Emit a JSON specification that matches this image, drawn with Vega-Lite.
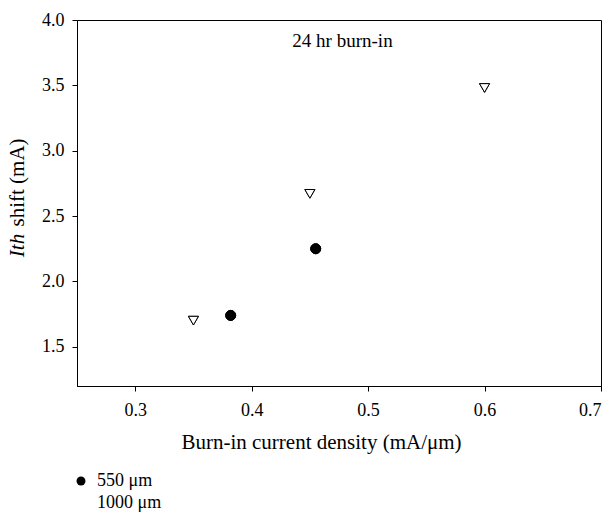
{
  "$schema": "https://vega.github.io/schema/vega-lite/v6.json",
  "autosize": "none",
  "width": 524,
  "height": 366,
  "padding": {"left": 77, "top": 20, "right": 12, "bottom": 133},
  "background": "white",
  "config": {
    "view": {"stroke": "black", "strokeWidth": 1},
    "axis": {"domainColor": "black", "tickColor": "black", "labelColor": "black", "titleColor": "black", "labelFont": "Liberation Serif", "titleFont": "Liberation Serif", "labelFontSize": 18, "titleFontSize": 21, "titleFontWeight": "normal", "grid": false, "tickSize": 5},
    "legend": {"labelFont": "Liberation Serif", "labelFontSize": 18, "labelColor": "black", "padding": 0, "symbolStrokeColor": "black", "symbolStrokeWidth": 1, "symbolSize": 80}
  },
  "data": {"values": [
    {"density": 0.382, "shift": 1.74, "length": "550 μm"},
    {"density": 0.455, "shift": 2.25, "length": "550 μm"},
    {"density": 0.35, "shift": 1.70, "length": "1000 μm"},
    {"density": 0.45, "shift": 2.67, "length": "1000 μm"},
    {"density": 0.60, "shift": 3.48, "length": "1000 μm"}
  ]},
  "layer": [
    {
      "mark": {"type": "point", "filled": true, "stroke": "black", "strokeWidth": 1, "opacity": 1, "size": 100},
      "encoding": {
        "x": {"field": "density", "type": "quantitative", "scale": {"domain": [0.25, 0.7], "nice": false, "zero": false},
          "axis": {"values": [0.3, 0.4, 0.5, 0.6, 0.7], "format": ".1f", "title": "Burn-in current density (mA/μm)", "labelPadding": 10, "titleBaseline": "alphabetic", "titleY": 62, "titleX": 244, "titleAlign": "center"}},
        "y": {"field": "shift", "type": "quantitative", "scale": {"domain": [1.2, 4.0], "nice": false, "zero": false},
          "axis": {"orient": "left", "values": [1.5, 2.0, 2.5, 3.0, 3.5, 4.0], "format": ".1f", "title": "shift (mA)", "labelPadding": 8, "titleBaseline": "middle", "titleAngle": 270, "titleX": -60, "titleY": 162, "titleAlign": "center"}},
        "shape": {"field": "length", "type": "nominal", "scale": {"domain": ["550 μm", "1000 μm"], "range": ["circle", "triangle-down"]},
          "legend": {"title": null, "orient": "none", "legendX": -5, "legendY": 452, "rowPadding": 4, "labelOffset": 7, "symbolStrokeColor": "black",
            "encode": {"symbols": {"update": {"stroke": {"value": "black"}, "strokeWidth": {"value": 1}, "strokeOpacity": {"value": 1}, "fillOpacity": {"value": 1}, "fill": {"scale": "fill", "field": "value"}, "opacity": {"value": 1}}}}}},
        "fill": {"field": "length", "type": "nominal", "scale": {"domain": ["550 μm", "1000 μm"], "range": ["black", "white"]}, "legend": null}
      }
    },
    {
      "mark": {"type": "point", "filled": true, "stroke": "black", "strokeWidth": 1, "opacity": 1, "size": 100},
      "encoding": {
        "x": {"field": "density", "type": "quantitative"},
        "y": {"field": "shift", "type": "quantitative",
          "axis": {"orient": "left", "values": [1.5, 2.0, 2.5, 3.0, 3.5, 4.0], "labels": false, "ticks": false, "domain": false, "title": "Ith", "titleFontStyle": "italic", "titleBaseline": "middle", "titleAngle": 270, "titleX": -60, "titleY": 225, "titleAlign": "center"}},
        "shape": {"field": "length", "type": "nominal"},
        "fill": {"field": "length", "type": "nominal", "legend": null}
      }
    },
    {
      "data": {"values": [{"note": "24 hr burn-in"}]},
      "mark": {"type": "text", "font": "Liberation Serif", "fontSize": 19, "color": "black", "baseline": "alphabetic", "align": "center"},
      "encoding": {
        "text": {"field": "note"},
        "x": {"datum": 0.478, "type": "quantitative"},
        "y": {"datum": 3.795, "type": "quantitative", "axis": null}
      }
    }
  ],
  "resolve": {"axis": {"y": "independent"}}
}
